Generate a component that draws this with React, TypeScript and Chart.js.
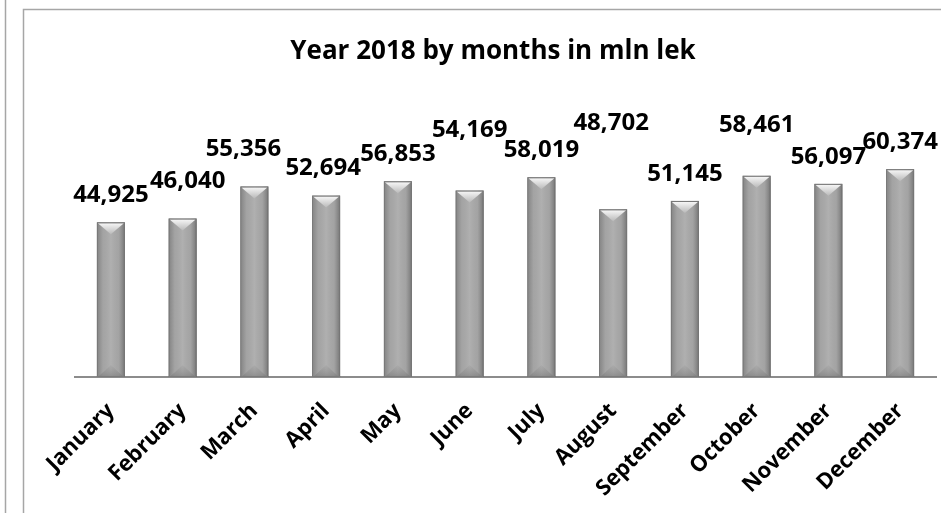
import React, { useEffect, useRef } from "react";
import { Chart, registerables } from "chart.js";

Chart.register(...registerables);

const months = [
  "January", "February", "March", "April", "May", "June",
  "July", "August", "September", "October", "November", "December",
];
const values = [44925, 46040, 55356, 52694, 56853, 54169, 58019, 48702, 51145, 58461, 56097, 60374];
const titleText = "Year 2018 by months in mln lek";
const yMin = 0;
const yMax = 70000;

// hand placement nudges of the value labels (pixels)
const labelLift = [0, 10, 10, 0, 0, 33, 0, 59, 0, 24, 0, 0];
const labelShift = [0, 5, -11, -3, 0, 0, 0, -2, 0, 0, 0, 0];

const FONT = "'Open Sans', Lato, sans-serif";

const framePlugin = {
  id: "frame",
  beforeDraw(chart: any) {
    const { ctx, width, height } = chart;
    ctx.save();
    ctx.fillStyle = "#ffffff";
    ctx.fillRect(0, 0, width, height);
    ctx.strokeStyle = "#a6a6a6";
    ctx.lineWidth = 1.5;
    ctx.beginPath();
    ctx.moveTo(5.5, 0);
    ctx.lineTo(5.5, height);
    ctx.stroke();
    ctx.beginPath();
    ctx.moveTo(23.5, height);
    ctx.lineTo(23.5, 9.5);
    ctx.lineTo(width, 9.5);
    ctx.stroke();
    ctx.fillStyle = "#000000";
    ctx.font = `bold 26px ${FONT}`;
    ctx.textAlign = "center";
    ctx.textBaseline = "alphabetic";
    ctx.fillText(titleText, 493, 59);
    ctx.restore();
  },
  beforeDatasetsDraw(chart: any) {
    const ctx = chart.ctx;
    ctx.save();
    ctx.shadowColor = "rgba(0,0,0,0.35)";
    ctx.shadowBlur = 5;
    ctx.shadowOffsetX = 2;
    ctx.shadowOffsetY = 2;
  },
  afterDatasetsDraw(chart: any) {
    const ctx = chart.ctx;
    ctx.restore();
    const meta = chart.getDatasetMeta(0);
    ctx.save();
    meta.data.forEach((el: any, i: number) => {
      const w = el.width;
      const L = el.x - w / 2;
      const R = el.x + w / 2;
      const T = el.y;
      const B = el.base;
      // side shading
      const g = ctx.createLinearGradient(L, 0, R, 0);
      g.addColorStop(0, "rgba(60,60,60,0.35)");
      g.addColorStop(0.22, "rgba(60,60,60,0.05)");
      g.addColorStop(0.5, "rgba(255,255,255,0.08)");
      g.addColorStop(0.78, "rgba(60,60,60,0.05)");
      g.addColorStop(1, "rgba(40,40,40,0.4)");
      ctx.fillStyle = g;
      ctx.fillRect(L, T, w, B - T);
      // top bevel
      const h = Math.min(12, (B - T) / 3);
      const tg = ctx.createLinearGradient(0, T, 0, T + h);
      tg.addColorStop(0, "#fbfbfb");
      tg.addColorStop(1, "#b9b9b9");
      ctx.fillStyle = tg;
      ctx.beginPath();
      ctx.moveTo(L + 1, T + 1);
      ctx.lineTo(R - 1, T + 1);
      ctx.lineTo(el.x, T + h);
      ctx.closePath();
      ctx.fill();
      // bottom bevel
      const bg = ctx.createLinearGradient(0, B - h, 0, B);
      bg.addColorStop(0, "rgba(150,150,150,0.2)");
      bg.addColorStop(1, "rgba(120,120,120,0.6)");
      ctx.fillStyle = bg;
      ctx.beginPath();
      ctx.moveTo(L + 1, B);
      ctx.lineTo(R - 1, B);
      ctx.lineTo(el.x, B - h);
      ctx.closePath();
      ctx.fill();
      ctx.strokeStyle = "#7a7a7a";
      ctx.lineWidth = 1;
      ctx.strokeRect(L + 0.5, T + 0.5, w - 1, B - T - 1);

      // value label
      ctx.fillStyle = "#000000";
      ctx.font = `bold 24px ${FONT}`;
      ctx.textAlign = "center";
      ctx.textBaseline = "middle";
      const v = values[i];
      ctx.fillText(v.toLocaleString("en-US"), el.x + labelShift[i], T - 27 - labelLift[i]);
    });
    ctx.restore();
  },
};

export default function App() {
  const ref = useRef<HTMLCanvasElement | null>(null);
  useEffect(() => {
    if (!ref.current) return;
    const chart = new Chart(ref.current, {
      type: "bar",
      data: {
        labels: months,
        datasets: [
          {
            data: values,
            backgroundColor: "#a9a9a9",
            borderColor: "#7f7f7f",
            borderWidth: 1,
            barPercentage: 0.39,
            categoryPercentage: 1,
          },
        ],
      },
      options: {
        animation: false,
        responsive: false,
        layout: { padding: { left: 75, right: 5, top: 136, bottom: 0 } },
        plugins: {
          legend: { display: false },
          title: { display: false },
          tooltip: { enabled: false },
        },
        scales: {
          y: { display: false, min: yMin, max: yMax },
          x: {
            grid: { display: false, drawTicks: false },
            border: { display: true, color: "#8c8c8c", width: 2 },
            ticks: {
              minRotation: 45,
              maxRotation: 45,
              padding: 21,
              color: "#000000",
              font: { family: FONT, size: 22, weight: "bold" },
              autoSkip: false,
            },
            afterFit(scale: any) {
              scale.height = 136;
              scale.paddingLeft = 0;
              scale.paddingRight = 0;
            },
          },
        },
      },
      plugins: [framePlugin],
    });
    return () => chart.destroy();
  }, []);
  return (
    <div style={{ position: "fixed", left: 0, top: 0, width: 941, height: 513 }}>
      <canvas ref={ref} width={941} height={513} style={{ width: 941, height: 513 }} />
    </div>
  );
}
